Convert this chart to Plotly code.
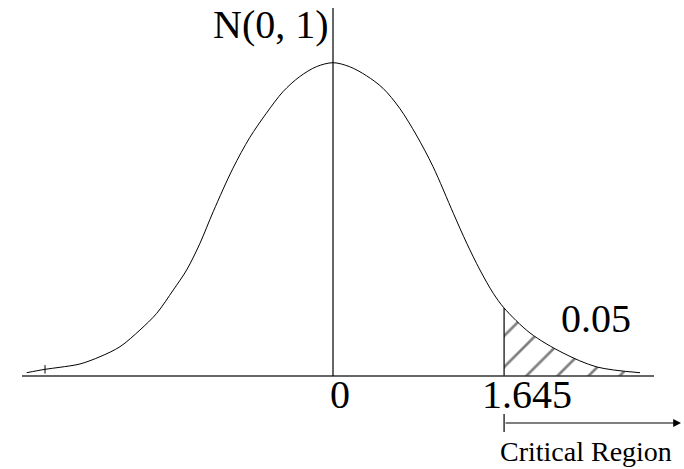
import plotly.graph_objects as go

# ---- data ----
curve_x = [-2.945, -2.769, -2.625, -2.433, -2.240, -2.048, -1.856, -1.695, -1.536,
           -1.407, -1.279, -1.151, -0.962, -0.801, -0.641, -0.481, -0.321, -0.160,
           0.0, 0.160, 0.321, 0.481, 0.641, 0.801, 0.962, 1.157, 1.286, 1.413,
           1.541, 1.645, 1.894, 2.212, 2.538, 2.952]
curve_y = [0.0042, 0.0085, 0.0111, 0.0153, 0.0246, 0.0373, 0.0586, 0.0798, 0.1095,
           0.1350, 0.1690, 0.2095, 0.2645, 0.3035, 0.3345, 0.3620, 0.3811, 0.3938,
           0.3989, 0.3938, 0.3824, 0.3663, 0.3409, 0.3069, 0.2665, 0.2072, 0.1690,
           0.1350, 0.1053, 0.0866, 0.0548, 0.0293, 0.0115, 0.0042]
critical_value = 1.645
alpha_label = "0.05"
dist_label = "N(0, 1)"
region_label = "Critical Region"
tick_labels = ["0", "1.645"]
tick_values = [0.0, 1.645]

# ---- pixel mapping for layout ----
W, H = 684, 469
X0_PX, Y0_PX = 333, 376      # pixel of data origin
XS = 104.0                   # px per x unit
YS = 313.3 / 0.3989          # px per y unit

def px_x(p):
    return (p - X0_PX) / XS

def px_y(p):
    return (Y0_PX - p) / YS

def paper_x(p):
    return p / W

def paper_y(p):
    return (H - p) / H

FONT = "Liberation Serif, Times New Roman, serif"

fig = go.Figure()

# shaded tail
i0 = curve_x.index(critical_value)
tail_x = curve_x[i0:]
tail_y = curve_y[i0:]
fig.add_trace(go.Scatter(
    x=tail_x, y=tail_y, mode="lines", line=dict(width=0, shape="spline", smoothing=0.9),
    fill="tozeroy", fillcolor="white",
    fillpattern=dict(shape="/", size=22, solidity=0.12, fgcolor="black", bgcolor="white"),
    hoverinfo="skip", showlegend=False))

# main curve
fig.add_trace(go.Scatter(
    x=curve_x, y=curve_y, mode="lines",
    line=dict(color="black", width=1, shape="spline", smoothing=0.9),
    showlegend=False))

# critical value vertical line
fig.add_trace(go.Scatter(
    x=[critical_value, critical_value], y=[0, curve_y[i0]], mode="lines",
    line=dict(color="black", width=1.2), showlegend=False))

# small tick mark on the left tail
fig.add_trace(go.Scatter(
    x=[curve_x[1]], y=[curve_y[1]], mode="markers",
    marker=dict(symbol="line-ns", size=6, line=dict(color="black", width=1)),
    showlegend=False))

shapes = [
    dict(type="line", x0=px_x(22), x1=px_x(654), y0=0, y1=0,
         line=dict(color="#333333", width=1.5), layer="above"),
    dict(type="line", x0=0, x1=0, y0=0, y1=px_y(8),
         line=dict(color="black", width=1.2), layer="above"),
    dict(type="line", x0=critical_value, x1=critical_value, y0=px_y(414), y1=px_y(432),
         line=dict(color="black", width=1.2)),
]

def label(xp, yp_bottom, text, size, xanchor="center"):
    return dict(x=paper_x(xp), y=paper_y(yp_bottom), xref="paper", yref="paper",
                text=text, showarrow=False, xanchor=xanchor, yanchor="bottom",
                font=dict(family=FONT, size=size, color="black"))

annotations = [
    label(331, 49, dist_label, 40, xanchor="right"),
    label(596, 343, alpha_label, 40),
    label(586, 469, region_label, 28),
    dict(x=px_x(681), y=px_y(423), ax=critical_value, ay=px_y(423),
         xref="x", yref="y", axref="x", ayref="y", text="", showarrow=True,
         arrowhead=2, arrowsize=1.3, arrowwidth=1.2, arrowcolor="black"),
]
label_px = {"0": 340, "1.645": 527}
for v, t in zip(tick_values, tick_labels):
    annotations.append(label(label_px[t], 419, t, 40))

fig.update_layout(
    width=W, height=H,
    margin=dict(l=0, r=0, t=0, b=0),
    paper_bgcolor="white", plot_bgcolor="white",
    xaxis=dict(range=[px_x(0), px_x(W)], visible=False, fixedrange=True),
    yaxis=dict(range=[px_y(H), px_y(0)], visible=False, fixedrange=True),
    shapes=shapes, annotations=annotations,
)

fig.write_html("out.html", post_script="document.body.style.margin='0px';",
               config={"displayModeBar": False})
